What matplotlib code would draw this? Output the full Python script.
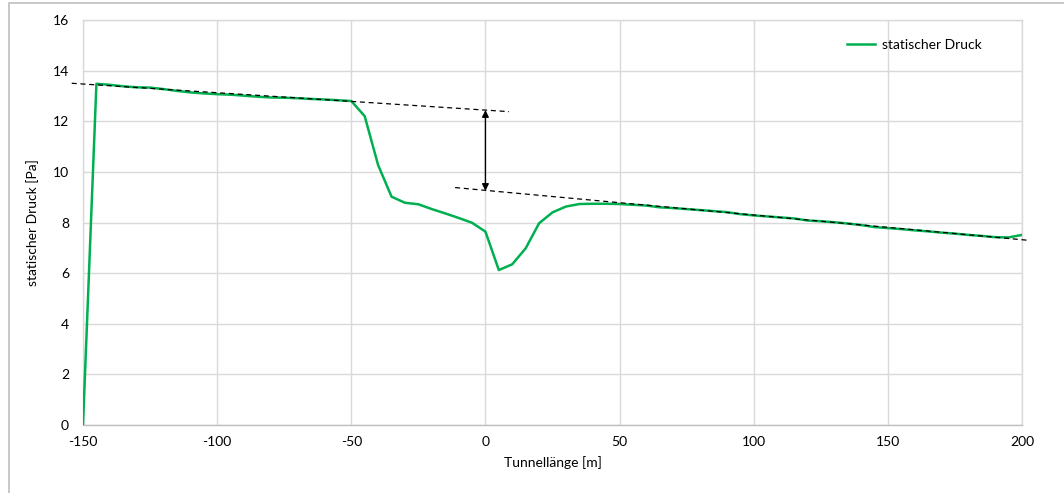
import matplotlib
matplotlib.use("Agg")
import matplotlib.pyplot as plt
from matplotlib.patches import Rectangle

plt.rcParams['font.family'] = ['Lato', 'DejaVu Sans']
plt.rcParams['axes.unicode_minus'] = False

x_m = list(range(-150, 205, 5))
druck = [0.0, 13.48, 13.44, 13.38, 13.34, 13.33, 13.27, 13.20, 13.14, 13.10,
         13.07, 13.05, 13.01, 12.97, 12.94, 12.93, 12.91, 12.88, 12.86, 12.83,
         12.80, 12.20, 10.27, 9.02, 8.78, 8.72, 8.53, 8.36, 8.18, 7.99,
         7.64, 6.12, 6.35, 6.98, 7.97, 8.40, 8.63, 8.73, 8.74, 8.74,
         8.73, 8.70, 8.67, 8.60, 8.57, 8.53, 8.49, 8.45, 8.41, 8.33,
         8.28, 8.24, 8.20, 8.16, 8.08, 8.05, 8.01, 7.96, 7.90, 7.82,
         7.78, 7.74, 7.69, 7.65, 7.60, 7.56, 7.51, 7.47, 7.42, 7.41, 7.51]

trend_upper_x = [-154.2, 8.8]
trend_upper_y = [13.50, 12.38]
trend_lower_x = [-11.3, 202.0]
trend_lower_y = [9.38, 7.30]
arrow_x = 0
arrow_y = [12.44, 9.25]

xticks = list(range(-150, 201, 50))
yticks = list(range(0, 17, 2))

W, H = 1064, 493
fig = plt.figure(figsize=(W / 100, H / 100), dpi=100)
ax = fig.add_axes([83 / W, 1 - 425 / H, (1022 - 83) / W, (425 - 20) / H])

fig.patches.append(Rectangle((9 / W, -0.1), 1.2, 1 - 3 / H + 0.1, transform=fig.transFigure,
                             fill=False, edgecolor='#bfbfbf', linewidth=1.2))

ax.plot(x_m, druck, color='#00b050', linewidth=1.8, label='statischer Druck', zorder=3)
ax.plot(trend_upper_x, trend_upper_y, color='black', linestyle=(0, (4, 3)), linewidth=0.9,
        clip_on=False, zorder=4)
ax.plot(trend_lower_x, trend_lower_y, color='black', linestyle=(0, (4, 3)), linewidth=0.9,
        clip_on=False, zorder=4)
ax.annotate('', xy=(arrow_x, arrow_y[0]), xytext=(arrow_x, arrow_y[1]),
            arrowprops=dict(arrowstyle='<|-|>', color='black', lw=1.0,
                            mutation_scale=10, shrinkA=0, shrinkB=0), zorder=5)

ax.set_xlim(-150, 200)
ax.set_ylim(0, 16)
ax.set_xticks(xticks)
ax.set_yticks(yticks)
ax.grid(True, color='#d9d9d9', linewidth=1.0)
ax.set_axisbelow(True)
for s in ax.spines.values():
    s.set_color('#d9d9d9')
    s.set_linewidth(1.0)
ax.spines['bottom'].set_color('#bfbfbf')
ax.tick_params(length=0, labelsize=10, colors='black', pad=8)
ax.tick_params(axis='y', pad=10)
ax.set_xlabel('Tunnellänge [m]', fontsize=10, labelpad=6)
ax.set_ylabel('statischer Druck [Pa]', fontsize=10, labelpad=10)

ax.legend(loc='upper right', bbox_to_anchor=(0.97, 0.985), frameon=False, fontsize=10,
          handlelength=2.0, handletextpad=0.5)

fig.savefig('out.png', dpi=100)
